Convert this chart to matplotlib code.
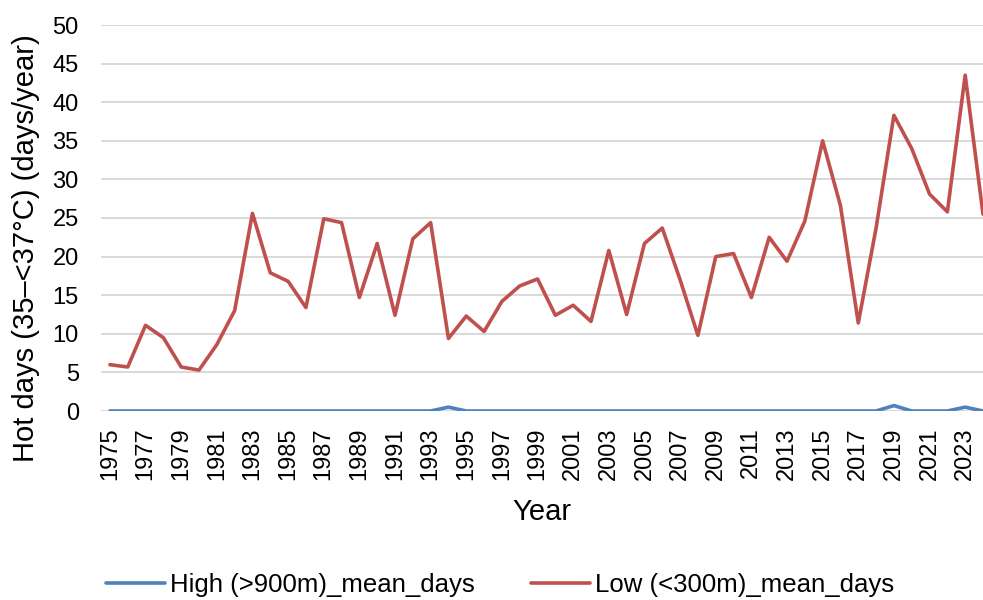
import matplotlib.pyplot as plt
import numpy as np

plt.rcParams['font.family'] = ['Liberation Sans', 'DejaVu Sans']

# years and series
years = list(range(1975, 2025))
low_days = [6.0, 5.7, 11.1, 9.5, 5.7, 5.3, 8.6, 13.0, 25.6, 17.9,
            16.8, 13.4, 24.9, 24.4, 14.7, 21.7, 12.4, 22.3, 24.4, 9.4,
            12.3, 10.3, 14.2, 16.2, 17.1, 12.4, 13.7, 11.6, 20.8, 12.5,
            21.7, 23.7, 17.0, 9.8, 20.0, 20.4, 14.7, 22.5, 19.4, 24.6,
            35.0, 26.6, 11.4, 23.7, 38.3, 34.0, 28.1, 25.8, 43.5, 25.5]
high_days = [0.0] * 50
high_days[1994 - 1975] = 0.5
high_days[2019 - 1975] = 0.7
high_days[2023 - 1975] = 0.5

fig = plt.figure(figsize=(9.83, 6), dpi=100)
ax = fig.add_axes([101 / 983, 1 - 411 / 600, 1 - 101 / 983, (411 - 25) / 600])

ax.plot(years, high_days, color='#4F81BD', lw=2.6, label='High (>900m)_mean_days',
        solid_joinstyle='round', solid_capstyle='round', zorder=3)
ax.plot(years, low_days, color='#C0504D', lw=2.6, label='Low (<300m)_mean_days',
        solid_joinstyle='round', solid_capstyle='round', zorder=3)

ax.set_xlim(1974.5, 2024.0)
ax.set_ylim(0, 50)
ax.set_yticks(np.arange(0, 51, 5))
ax.set_xticks(years[::2])
ax.set_xticklabels([str(y) for y in years[::2]], rotation=90)
ax.tick_params(axis='both', length=0, labelsize=17)
ax.tick_params(axis='y', pad=16)
ax.tick_params(axis='x', pad=12)
ax.grid(True, axis='y', color='#d9d9d9', lw=1.4)
ax.set_axisbelow(True)
for s in ax.spines.values():
    s.set_visible(False)

ax.set_xlabel('Year', fontsize=21)
ax.set_ylabel('Hot days (35\u2013<37\u00b0C) (days/year)', fontsize=21)
ax.xaxis.set_label_coords(0.5, -0.225)
ax.yaxis.set_label_coords(-0.069, 0.422)

fig.legend(loc='center', bbox_to_anchor=(500 / 983, 1 - 585 / 600), ncol=2, frameon=False,
           fontsize=18.5, handlelength=2.3, columnspacing=2.2, handletextpad=0.2)

fig.savefig('out.png', dpi=100)
